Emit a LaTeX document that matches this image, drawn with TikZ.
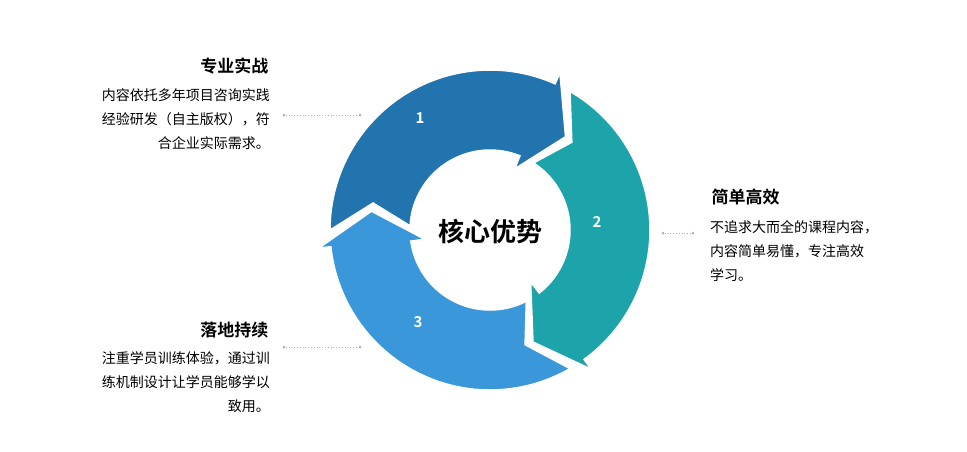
\documentclass[tikz,border=0pt]{standalone}
\usepackage{fontspec}
\setmainfont{Noto Sans CJK SC}
\newfontfamily\cjkb{Noto Sans CJK SC Bold}
\begin{document}
\begin{tikzpicture}[x=1pt,y=-1pt,
  title/.style={font=\cjkb\fontsize{17}{20}\selectfont},
  body/.style={font=\fontsize{14}{24}\selectfont, inner sep=0pt},
  num/.style={font=\cjkb\fontsize{15}{18}\selectfont, text=white},
  leader/.style={draw=gray!60, dotted, line width=0.8pt},
  dotend/.style={circle, fill=gray!60, inner sep=0pt, minimum size=3pt}]
\useasboundingbox (0,0) rectangle (967,451);
\definecolor{cA}{HTML}{2274AE}
\definecolor{cB}{HTML}{3A98DA}
\definecolor{cC}{HTML}{1CA4AA}
\foreach \k/\c in {0/cA,1/cB,2/cC}{
\begin{scope}[shift={(490,230)}, yscale=-1, rotate=-120*\k]
\fill[\c, draw=white, line width=1.5pt]
  (180:160) arc[start angle=180, end angle=66, radius=160]
  -- (66:172) -- (51:120) -- (68:66) -- (68:80)
  arc[start angle=68, end angle=177, radius=80]
  -- (167:120) -- cycle;
\end{scope}}
\node[num] (n1) at (420,118) {1};
\node[num] (n2) at (597,222) {2};
\node[num] (n3) at (418,322) {3};
\node[font=\cjkb\fontsize{26}{30}\selectfont] (c) at (490,232) {核心优势};
% left top
\node[title, anchor=east] (t1) at (272,66) {专业实战};
\node[body, anchor=north east, align=right] (b1) at (270,88) {内容依托多年项目咨询实践\\经验研发（自主版权），符\\合企业实际需求。};
\node[dotend] (l1a) at (284,115) {};
\node[dotend] (l1b) at (360,115) {};
\draw[leader] (l1a) -- (l1b);
% right
\node[title, anchor=west] (t2) at (708,197) {简单高效};
\node[body, anchor=north west, align=left] (b2) at (710,220) {不追求大而全的课程内容，\\内容简单易懂，专注高效\\学习。};
\node[dotend] (l2a) at (663,233) {};
\node[dotend] (l2b) at (693,233) {};
\draw[leader] (l2a) -- (l2b);
% left bottom
\node[title, anchor=east] (t3) at (272,330) {落地持续};
\node[body, anchor=north east, align=right] (b3) at (270,351) {注重学员训练体验，通过训\\练机制设计让学员能够学以\\致用。};
\node[dotend] (l3a) at (284,347) {};
\node[dotend] (l3b) at (360,347) {};
\draw[leader] (l3a) -- (l3b);
\end{tikzpicture}
\end{document}
